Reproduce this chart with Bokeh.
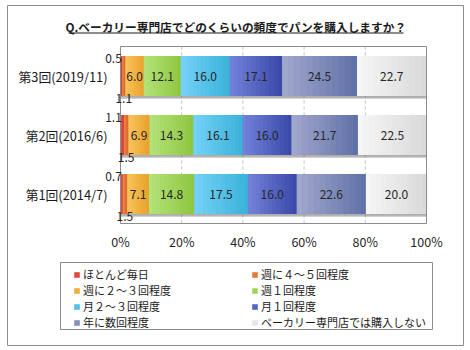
from bokeh.plotting import figure
from bokeh.models import ColumnDataSource, Legend, LegendItem, Range1d
from bokeh.core.properties import value
from bokeh.transform import dodge
from bokeh.embed import file_html
from bokeh.resources import INLINE

title_text = "Q.ベーカリー専門店でどのくらいの頻度でパンを購入しますか？"
rounds = ["第1回(2014/7)", "第2回(2016/6)", "第3回(2019/11)"]  # bottom -> top
series = ["ほとんど毎日", "週に４～５回程度", "週に２～３回程度", "週１回程度",
          "月２～３回程度", "月１回程度", "年に数回程度", "ベーカリー専門店では購入しない"]
almost_daily = [0.7, 1.1, 0.5]
week_4_5 = [1.5, 1.5, 1.1]
week_2_3 = [7.1, 6.9, 6.0]
week_1 = [14.8, 14.3, 12.1]
month_2_3 = [17.5, 16.1, 16.0]
month_1 = [16.0, 16.0, 17.1]
few_year = [22.6, 21.7, 24.5]
never = [20.0, 22.5, 22.7]
x_ticks = [0, 20, 40, 60, 80, 100]

values = [almost_daily, week_4_5, week_2_3, week_1, month_2_3, month_1, few_year, never]
colors = ["#E04A3C", "#E8783A", "#F0AE3C", "#A2D45C", "#55C0E6", "#5565C0", "#8290BC", "#E8E8E8"]
light = ["#F06452", "#F08A4A", "#F9C65E", "#B5E37A", "#75D2F8", "#7483DA", "#A3A9CE", "#F7F7F7"]
dark = ["#C8362C", "#D8602A", "#E8A02A", "#8DC63F", "#3AB2D8", "#3848A8", "#5E70A6", "#D8D8D8"]
FONT = "Noto Sans CJK JP"
TXT = "#262626"

# ---- layout (canvas pixels) ----
W, H = 470, 350
FR_L, FR_R, FR_T, FR_B = 7, 463, 5, 345          # outer border = frame
PL_L, PL_R, PL_T, PL_B = 120, 426, 46, 223       # plot area
n = len(rounds)
xs = 100.0 / (PL_R - PL_L)
ys = n / (PL_B - PL_T)
x_start = 0 - (PL_L - FR_L) * xs
x_end = 100 + (FR_R - PL_R) * xs
y_start = 0.5 - (FR_B - PL_B) * ys
y_end = n + 0.5 + (PL_T - FR_T) * ys
def dx(px): return (px - PL_L) * xs
def dy(py): return 0.5 + (PL_B - py) * ys

def hex2rgb(h):
    h = h.lstrip("#")
    return tuple(int(h[i:i + 2], 16) for i in (0, 2, 4))
def mix(a, b, t):
    ra, rb = hex2rgb(a), hex2rgb(b)
    return "#%02X%02X%02X" % tuple(round(x + (y - x) * t) for x, y in zip(ra, rb))

p = figure(width=W, height=H, x_range=Range1d(x_start, x_end), y_range=Range1d(y_start, y_end),
           output_backend="svg", toolbar_location=None,
           x_axis_location=None, y_axis_location=None,
           min_border_left=FR_L, min_border_right=W - FR_R,
           min_border_top=FR_T, min_border_bottom=H - FR_B)
p.grid.visible = False
p.background_fill_color = "white"
p.border_fill_color = "white"
p.outline_line_color = "#8C8C8C"
p.outline_line_width = 1

ypos = list(range(1, n + 1))
keys = [f"s{i}" for i in range(len(series))]
data = {"y": ypos}
for k, v in zip(keys, values):
    data[k] = v
src = ColumnDataSource(data)
BAR_H = 0.68

# vertical dashed grid lines inside plot area
inner = x_ticks[1:-1]
p.segment(x0=inner, x1=inner, y0=[0.5] * len(inner), y1=[n + 0.5] * len(inner),
          line_color="#BFBFBF", line_dash="3 3", line_width=1)

# bar shadows
shadow_src = ColumnDataSource(dict(y=ypos, left=[0] * n, right=[100] * n))
p.hbar(y=dodge("y", -0.05), left="left", right="right", height=BAR_H, source=shadow_src,
       fill_color="#7A7A7A", fill_alpha=0.35, line_color=None)
p.hbar(y=dodge("y", -0.03), left="left", right="right", height=BAR_H, source=shadow_src,
       fill_color="#6A6A6A", fill_alpha=0.35, line_color=None)

rs = p.hbar_stack(keys, y="y", height=BAR_H, source=src, fill_color=colors, line_color=None)

# gradient shading of each segment (light on the left, dark on the right)
K = 12
g_y, g_l, g_r, g_c = [], [], [], []
for r in range(n):
    start = 0.0
    for i, v in enumerate(values):
        vv = v[r]
        for k in range(K):
            g_y.append(ypos[r])
            g_l.append(start + vv * k / K)
            g_r.append(min(start + vv * (k + 1) / K + 0.04, start + vv))
            g_c.append(mix(light[i], dark[i], (k + 0.5) / K))
        start += vv
p.hbar(y=g_y, left=g_l, right=g_r, height=BAR_H, fill_color=g_c, line_color=None)

# plot area border
p.quad(left=[0], right=[100], bottom=[0.5], top=[n + 0.5], fill_color=None,
       line_color="#8C8C8C", line_width=1)

# value labels
in_x, in_y, in_t = [], [], []
f_x, f_y, f_t = [], [], []
s_x, s_y, s_t = [], [], []
for r in range(n):
    start = 0.0
    for i, v in enumerate(values):
        vv = v[r]
        c = start + vv / 2
        txt = f"{vv:.1f}"
        if i == 0:
            f_x.append(0); f_y.append(ypos[r] + BAR_H / 2); f_t.append(txt)
        elif i == 1:
            s_x.append(c); s_y.append(ypos[r] - BAR_H / 2); s_t.append(txt)
        else:
            in_x.append(c); in_y.append(ypos[r]); in_t.append(txt)
        start += vv

lab = dict(text_font=value(FONT), text_font_size="12px", text_color=TXT,
           text_align="center", text_baseline="middle")
p.text(x=in_x, y=in_y, text=in_t, **lab)
p.text(x=f_x, y=f_y, text=f_t, x_offset=-7, y_offset=3, **lab)
p.text(x=s_x, y=s_y, text=s_t, y_offset=2.5, **lab)

# category labels
p.text(x=[0] * n, y=ypos, text=rounds, x_offset=-13, text_font=value(FONT), text_font_size="12.8px",
       text_color="#1A1A1A", text_align="right", text_baseline="middle")

# x tick labels
p.text(x=x_ticks, y=[0.5] * len(x_ticks), text=[f"{t}%" for t in x_ticks], y_offset=18,
       text_font=value(FONT), text_font_size="12.5px", text_color=TXT,
       text_align="center", text_baseline="middle")

# title with underline
p.text(x=[dx(235)], y=[dy(26)], text=[title_text], text_font=value(FONT), text_font_size="11.7px",
       text_font_style="bold", text_color="#1A1A1A", text_align="center", text_baseline="middle")
p.segment(x0=[dx(68)], x1=[dx(403)], y0=[dy(32.5)], y1=[dy(32.5)], line_color="#1A1A1A", line_width=1)

# legend border
p.quad(left=[dx(60)], right=[dx(432)], top=[dy(262)], bottom=[dy(329)], fill_color=None,
       line_color="#8C8C8C", line_width=1)

items = [LegendItem(label=s, renderers=[r]) for s, r in zip(series, rs)]
legend = Legend(items=items, ncols=2, orientation="horizontal", location=(73 - FR_L, FR_B - 330),
                label_text_font=FONT, label_text_font_size="11px", label_text_color="#1A1A1A",
                glyph_width=7, glyph_height=7, label_height=16, label_standoff=3,
                label_width=168, spacing=0, padding=2, margin=0,
                border_line_color=None, background_fill_alpha=0)
p.add_layout(legend)

open("out.html", "w").write(file_html(p, INLINE))
